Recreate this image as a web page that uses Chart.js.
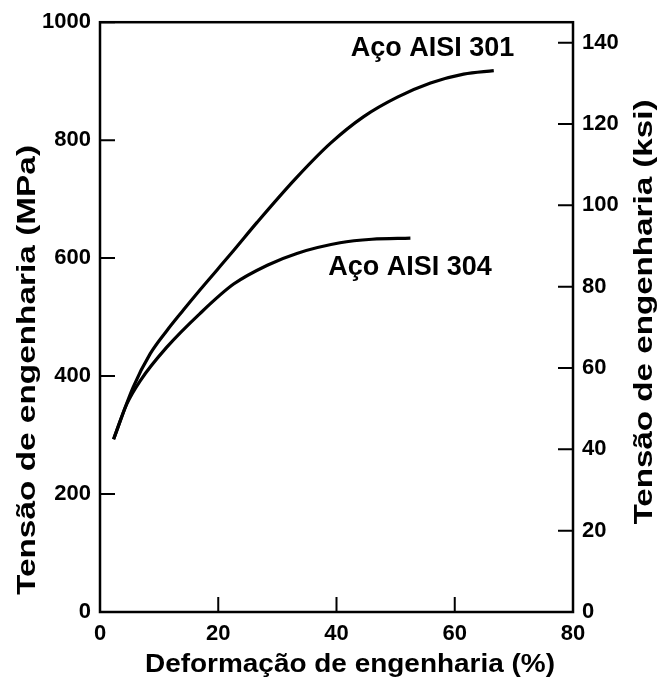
<!DOCTYPE html>
<html>
<head>
<meta charset="utf-8">
<script src="https://cdn.jsdelivr.net/npm/chart.js@4/dist/chart.umd.min.js"></script>
<style>
  html, body { margin: 0; padding: 0; background: #fff; }
  #wrap { width: 663px; height: 689px; position: relative; }
</style>
</head>
<body>
<div id="wrap"><canvas id="c" width="663" height="689"></canvas></div>
<script>
// Engineering strain (%) and engineering stress (MPa) for the two stainless steels
const strain301 = [2.3, 5.6, 8.5, 11.3, 14.1, 16.9, 19.8, 22.6, 26.6, 33.0, 39.0, 44.6, 50.3, 55.9, 61.5, 66.6];
const stress301 = [293, 381, 438, 477, 512, 546, 580, 613, 661, 734, 795, 840, 873, 897, 912, 918];

const strain304 = [2.3, 4.5, 6.8, 11.3, 16.9, 22.6, 28.3, 33.3, 40.6, 46.0, 52.5];
const stress304 = [293, 352, 392, 449, 506, 556, 588, 608, 626, 632, 634];

const seriesNames = ['Aço AISI 301', 'Aço AISI 304'];

// Tick values for the strain axis, the MPa axis and the ksi axis
const strainTicks = [0, 20, 40, 60, 80];
const mpaTicks = [0, 200, 400, 600, 800, 1000];
const ksiTicks = [0, 20, 40, 60, 80, 100, 120, 140];
const MPA_PER_KSI = 6.89476;

const toPoints = (xs, ys) => xs.map((x, i) => ({ x, y: ys[i] }));

const tickFont = { family: '"Liberation Sans Narrow", "Liberation Sans", Arial, sans-serif', size: 22, weight: 'bold' };
const titleFont = 'bold 26px "Liberation Sans", Arial, sans-serif';
const curveLabelFont = 'bold 27px "Liberation Sans", Arial, sans-serif';

// Draws text centred at (cx, cy), stretched along its baseline to the given length
function stretchedText(ctx, text, cx, cy, angle, length) {
  ctx.save();
  ctx.translate(cx, cy);
  ctx.rotate(angle);
  const w = ctx.measureText(text).width;
  ctx.scale(length / w, 1);
  ctx.fillText(text, 0, 0);
  ctx.restore();
}

// Frame box, inward tick marks, axis titles and curve labels
const decorations = {
  id: 'decorations',
  afterDraw(chart) {
    const { ctx, chartArea: a, scales } = chart;
    ctx.save();
    ctx.strokeStyle = '#000';
    ctx.lineWidth = 2.5;
    ctx.strokeRect(a.left, a.top, a.right - a.left, a.bottom - a.top);

    const len = 15;
    ctx.lineWidth = 2;
    ctx.beginPath();
    scales.x.ticks.forEach(t => {
      const px = scales.x.getPixelForValue(t.value);
      ctx.moveTo(px, a.bottom); ctx.lineTo(px, a.bottom - len);
    });
    scales.y.ticks.forEach(t => {
      const py = scales.y.getPixelForValue(t.value);
      ctx.moveTo(a.left, py); ctx.lineTo(a.left + len, py);
    });
    scales.y2.ticks.forEach(t => {
      const py = scales.y2.getPixelForValue(t.value);
      ctx.moveTo(a.right, py); ctx.lineTo(a.right - len, py);
    });
    ctx.stroke();

    ctx.fillStyle = '#000';
    ctx.font = titleFont;
    ctx.textAlign = 'center';
    ctx.textBaseline = 'middle';
    stretchedText(ctx, 'Deformação de engenharia (%)', 350, 665, 0, 410);
    stretchedText(ctx, 'Tensão de engenharia (MPa)', 28, 370, -Math.PI / 2, 450);
    stretchedText(ctx, 'Tensão de engenharia (ksi)', 645, 312, -Math.PI / 2, 425);

    ctx.font = curveLabelFont;
    ctx.textAlign = 'left';
    ctx.textBaseline = 'alphabetic';
    ctx.fillText(seriesNames[0], scales.x.getPixelForValue(42.4), scales.y.getPixelForValue(942));
    ctx.fillText(seriesNames[1], scales.x.getPixelForValue(38.6), scales.y.getPixelForValue(572));
    ctx.restore();
  }
};

const plainTick = v => String(v);

new Chart(document.getElementById('c'), {
  type: 'scatter',
  data: {
    datasets: [
      { label: seriesNames[0], data: toPoints(strain301, stress301) },
      { label: seriesNames[1], data: toPoints(strain304, stress304) }
    ].map(d => Object.assign(d, {
      showLine: true,
      borderColor: '#000',
      backgroundColor: '#000',
      borderWidth: 3.2,
      pointRadius: 0,
      cubicInterpolationMode: 'monotone',
      yAxisID: 'y'
    }))
  },
  options: {
    responsive: false,
    animation: false,
    layout: { padding: { top: 22, left: 0, right: 0, bottom: 0 } },
    plugins: { legend: { display: false }, tooltip: { enabled: false } },
    scales: {
      x: {
        type: 'linear', min: strainTicks[0], max: strainTicks[strainTicks.length - 1],
        afterBuildTicks: s => { s.ticks = strainTicks.map(v => ({ value: v })); },
        ticks: { font: tickFont, color: '#000', padding: 9, callback: plainTick },
        grid: { display: false, drawTicks: false },
        border: { display: false },
        afterFit: s => { s.height = 77; }
      },
      y: {
        type: 'linear', position: 'left', min: mpaTicks[0], max: mpaTicks[mpaTicks.length - 1],
        afterBuildTicks: s => { s.ticks = mpaTicks.map(v => ({ value: v })); },
        ticks: { font: tickFont, color: '#000', padding: 9, callback: plainTick },
        grid: { display: false, drawTicks: false },
        border: { display: false },
        afterFit: s => { s.width = 100; }
      },
      y2: {
        type: 'linear', position: 'right', min: 0, max: mpaTicks[mpaTicks.length - 1] / MPA_PER_KSI,
        afterBuildTicks: s => { s.ticks = ksiTicks.map(v => ({ value: v })); },
        ticks: { font: tickFont, color: '#000', padding: 9, callback: plainTick },
        grid: { display: false, drawTicks: false },
        border: { display: false },
        afterFit: s => { s.width = 90; }
      }
    }
  },
  plugins: [decorations]
});
</script>
</body>
</html>
